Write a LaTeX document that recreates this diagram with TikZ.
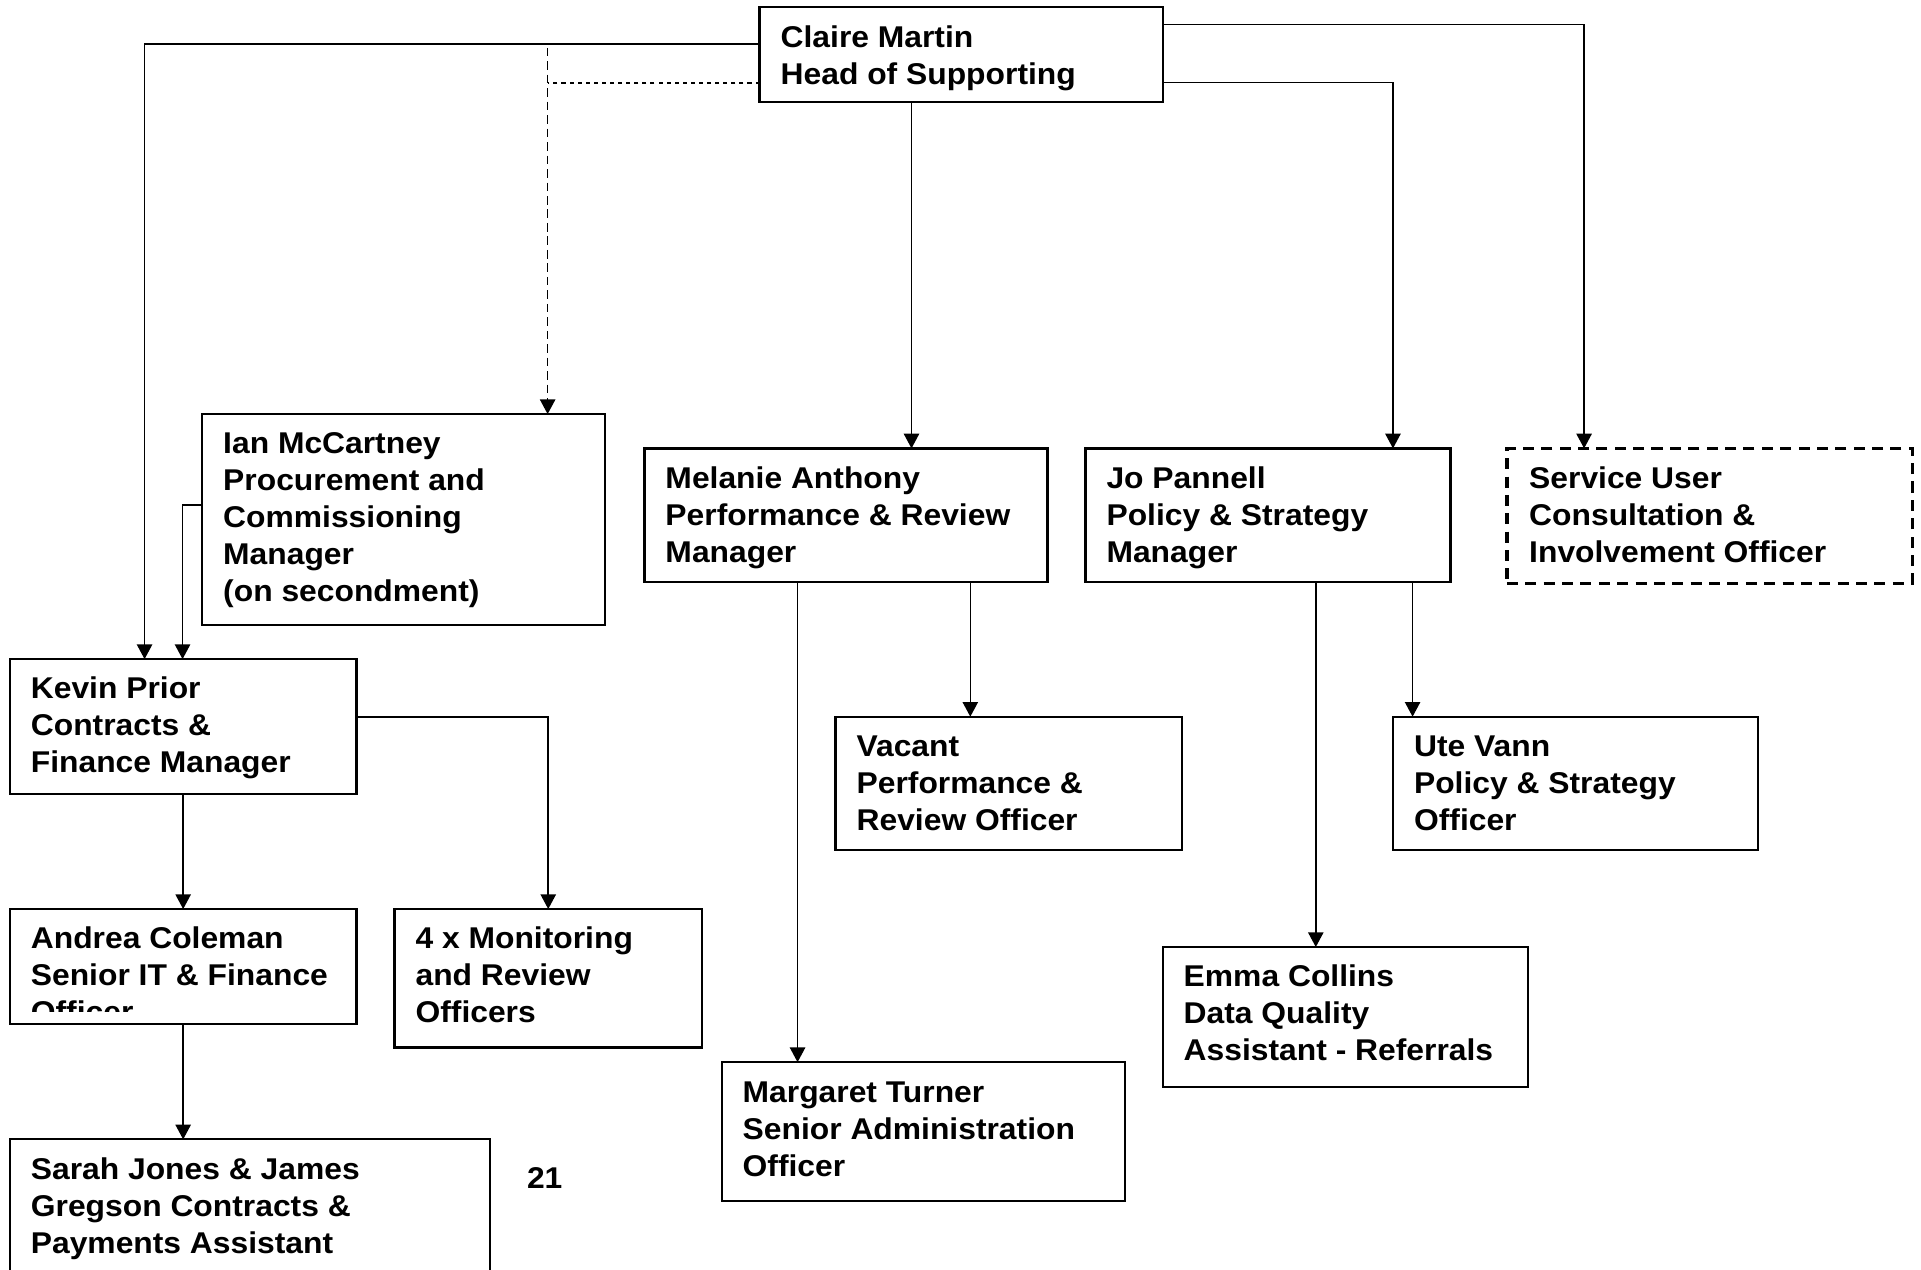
\documentclass[tikz,border=0pt]{standalone}
\usepackage{fontspec}
\newfontfamily\orgfont{Liberation Sans}[FakeStretch=1.06]
\usetikzlibrary{arrows.meta}

\tikzset{
  box/.style={draw, line width=1.8pt, anchor=north west, inner sep=0pt, outer sep=0pt},
  planned/.style={box, line width=2.6pt, dash pattern=on 9pt off 6pt},
  txt/.style={anchor=north west, inner sep=0pt, align=left,
    font=\orgfont\bfseries\fontsize{24.5}{30.2}\selectfont},
  conn/.style={line width=1.3pt, -{Triangle[length=12pt,width=12.5pt]}},
  dashlink/.style={line width=1.4pt, dash pattern=on 7pt off 4pt,
    -{Triangle[length=12pt,width=12.5pt]}},
  dotlink/.style={line width=1.5pt, dash pattern=on 3.3pt off 3.3pt},
}

\begin{document}
\begin{tikzpicture}[x=1pt, y=-1pt]
\useasboundingbox (0,0) rectangle (1568,1036);
\clip (0,0) rectangle (1568,1036);

% boxes
\node[box, minimum width=329, minimum height=77]  (claire)   at (620,6)   {};
\node[box, minimum width=329, minimum height=172] (ian)      at (165,338) {};
\node[box, minimum width=329, minimum height=109] (melanie)  at (526,366) {};
\node[box, minimum width=298, minimum height=109] (jo)       at (886,366) {};
\node[planned, minimum width=331, minimum height=110] (service) at (1230,366) {};
\node[box, minimum width=283, minimum height=110] (kevin)    at (8,538)   {};
\node[box, minimum width=283, minimum height=109] (vacant)   at (682,585) {};
\node[box, minimum width=298, minimum height=109] (ute)      at (1137,585) {};
\node[box, minimum width=283, minimum height=94]  (andrea)   at (8,742)   {};
\node[box, minimum width=251, minimum height=113] (monitor)  at (322,742) {};
\node[box, minimum width=298, minimum height=114] (emma)     at (949,773) {};
\node[box, minimum width=329, minimum height=113] (margaret) at (589,867) {};
\node[box, minimum width=392, minimum height=140] (sarah)    at (8,930)   {};

% texts (baseline of first line about 32 below the box top)
\node[txt] (tclaire)   at ([xshift=17pt,yshift=-11.2pt]claire.north west)   {\strut Claire Martin\\Head of Supporting};
\node[txt] (tian)      at ([xshift=17pt,yshift=-11.2pt]ian.north west)      {\strut Ian McCartney\\Procurement and\\Commissioning\\Manager\\(on secondment)};
\node[txt] (tmelanie)  at ([xshift=17pt,yshift=-11.2pt]melanie.north west)  {\strut Melanie Anthony\\Performance \& Review\\Manager};
\node[txt] (tjo)       at ([xshift=17pt,yshift=-11.2pt]jo.north west)       {\strut Jo Pannell\\Policy \& Strategy\\Manager};
\node[txt] (tservice)  at ([xshift=18pt,yshift=-11.2pt]service.north west)  {\strut Service User\\Consultation \&\\Involvement Officer};
\node[txt] (tkevin)    at ([xshift=17pt,yshift=-11.2pt]kevin.north west)    {\strut Kevin Prior\\Contracts \&\\Finance Manager};
\node[txt] (tvacant)   at ([xshift=17pt,yshift=-11.2pt]vacant.north west)   {\strut Vacant\\Performance \&\\Review Officer};
\node[txt] (tute)      at ([xshift=17pt,yshift=-11.2pt]ute.north west)      {\strut Ute Vann\\Policy \& Strategy\\Officer};
\begin{scope}
  \clip (8,742) rectangle (291,826);
  \node[txt] (tandrea) at ([xshift=17pt,yshift=-11.2pt]andrea.north west)   {\strut Andrea Coleman\\Senior IT \& Finance\\Officer};
\end{scope}
\node[txt] (tmonitor)  at ([xshift=17pt,yshift=-11.2pt]monitor.north west)  {\strut 4 x Monitoring\\and Review\\Officers};
\node[txt] (temma)     at ([xshift=17pt,yshift=-11.2pt]emma.north west)     {\strut Emma Collins\\Data Quality\\Assistant - Referrals};
\node[txt] (tmargaret) at ([xshift=17pt,yshift=-11.2pt]margaret.north west) {\strut Margaret Turner\\Senior Administration\\Officer};
\node[txt] (tsarah)    at ([xshift=17pt,yshift=-11.2pt]sarah.north west)    {\strut Sarah Jones \& James\\Gregson Contracts \&\\Payments Assistant};
\node[txt] (pagenum)   at (430,949) {\strut 21};

% connector end points
\coordinate (cL1) at ([yshift=-30pt]claire.north west);
\coordinate (cL2) at ([yshift=-62pt]claire.north west);
\coordinate (cR1) at ([yshift=-14pt]claire.north east);
\coordinate (cR2) at ([yshift=-61.5pt]claire.north east);
\coordinate (cB)  at ([xshift=124pt]claire.south west);
\coordinate (kIn1) at ([xshift=110pt]kevin.north west);
\coordinate (kIn2) at ([xshift=141pt]kevin.north west);
\coordinate (ianIn) at ([xshift=282pt]ian.north west);
\coordinate (ianOut) at ([yshift=-74pt]ian.north west);
\coordinate (melIn) at ([xshift=218pt]melanie.north west);
\coordinate (joIn) at ([xshift=251pt]jo.north west);
\coordinate (svcIn) at ([xshift=63pt]service.north west);
\coordinate (kOut) at ([yshift=-47pt]kevin.north east);
\coordinate (mOut1) at ([xshift=125pt]melanie.south west);
\coordinate (mOut2) at ([xshift=266pt]melanie.south west);
\coordinate (jOut1) at ([xshift=188pt]jo.south west);
\coordinate (jOut2) at ([xshift=267pt]jo.south west);
\coordinate (dashTop) at (cL1 -| ianIn);

% reporting lines
\draw[conn] (cL1) -| (kIn1);
\draw[dotlink] (cL2) -- (cL2 -| ianIn);
\draw[dashlink] ([yshift=-3pt]dashTop) -- (ianIn);
\draw[conn] (cB) -- (melIn);
\draw[conn] (cR2) -| (joIn);
\draw[conn] (cR1) -| (svcIn);
\draw[conn] (ianOut) -| (kIn2);
\draw[conn] (kOut) -| (monitor.north);
\draw[conn] (kevin.south) -- (kevin.south |- andrea.north);
\draw[conn] (andrea.south) -- (andrea.south |- sarah.north);
\draw[conn] (mOut1) -- (mOut1 |- margaret.north);
\draw[conn] (mOut2) -- (mOut2 |- vacant.north);
\draw[conn] (jOut1) -- (jOut1 |- emma.north);
\draw[conn] (jOut2) -- (jOut2 |- ute.north);
\end{tikzpicture}
\end{document}
